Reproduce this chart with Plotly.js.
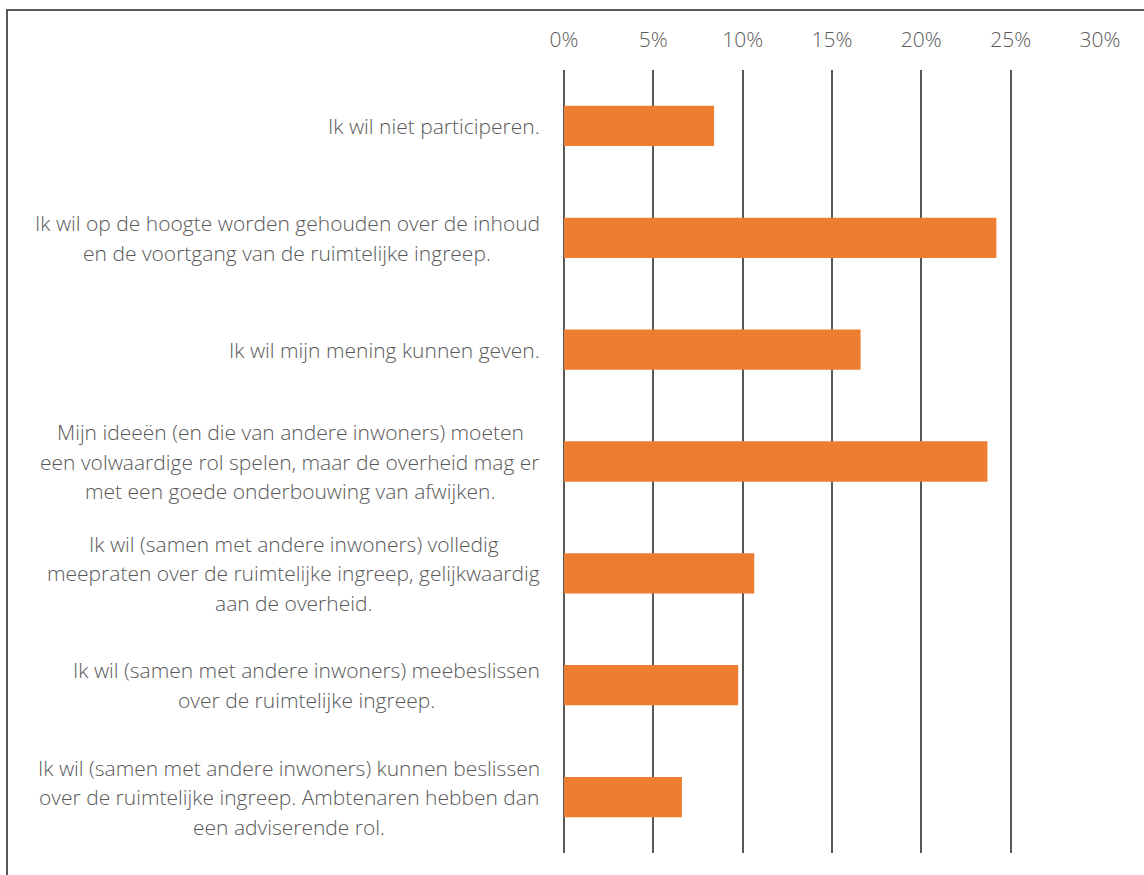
<!DOCTYPE html>
<html>
<head>
<meta charset="utf-8">
<script src="https://cdn.plot.ly/plotly-3.0.1.min.js"></script>
<style>
  html, body { margin: 0; padding: 0; background: #fff; overflow: hidden; }
  #chart { position: absolute; left: 0; top: 0; width: 1144px; height: 875px; }
  #frame { position: absolute; left: 6px; top: 9px; width: 1200px; height: 900px;
           border-left: 2px solid #595959; border-top: 2px solid #595959; pointer-events: none; }
</style>
</head>
<body>
<div id="chart"></div>
<div id="frame"></div>
<script>
const categories = [
  "Ik wil niet participeren.",
  "Ik wil op de hoogte worden gehouden over de inhoud<br>en de voortgang van de ruimtelijke ingreep.",
  "Ik wil mijn mening kunnen geven.",
  "Mijn ideeën (en die van andere inwoners) moeten<br>een volwaardige rol spelen, maar de overheid mag er<br>met een goede onderbouwing van afwijken.",
  "Ik wil (samen met andere inwoners) volledig<br>meepraten over de ruimtelijke ingreep, gelijkwaardig<br>aan de overheid.",
  "Ik wil (samen met andere inwoners) meebeslissen<br>over de ruimtelijke ingreep.",
  "Ik wil (samen met andere inwoners) kunnen beslissen<br>over de ruimtelijke ingreep. Ambtenaren hebben dan<br>een adviserende rol."
];
const values = [0.084, 0.242, 0.166, 0.237, 0.1065, 0.0975, 0.066];
const tickValues = [0, 0.05, 0.10, 0.15, 0.20, 0.25, 0.30];
const tickLabels = ["0%", "5%", "10%", "15%", "20%", "25%", "30%"];

const FONT = "'Open Sans', Lato, sans-serif";
const GREY = "#595959";
const LINE_H = 29.5;
const XSHIFT = -22;

const annotations = [];
categories.forEach((c, idx) => {
  const lines = c.split("<br>");
  const n = lines.length;
  lines.forEach((ln, i) => {
    annotations.push({
      xref: "paper", yref: "y",
      x: 0, y: idx,
      xshift: XSHIFT,
      yshift: ((n - 1) / 2 - i) * LINE_H,
      text: ln,
      showarrow: false,
      xanchor: "right",
      yanchor: "middle",
      font: { family: FONT, size: 21, color: GREY, weight: 300 },
      _block: idx
    });
  });
});

const trace = {
  type: "bar",
  orientation: "h",
  x: values,
  y: categories.map((c, i) => i),
  marker: { color: "#ED7D31" },
  width: 0.36,
  hoverinfo: "x"
};

const layout = {
  width: 1144, height: 875,
  margin: { l: 564, r: 44, t: 70, b: 22 },
  paper_bgcolor: "#fff", plot_bgcolor: "#fff",
  showlegend: false,
  font: { family: FONT, color: GREY },
  xaxis: {
    side: "top",
    range: [0, 0.30],
    tickvals: tickValues,
    ticktext: tickLabels,
    showgrid: true, gridcolor: GREY, gridwidth: 2,
    zeroline: true, zerolinecolor: GREY, zerolinewidth: 2,
    showline: false, ticks: "",
    ticklabelstandoff: 18,
    tickfont: { family: FONT, size: 21, color: GREY, weight: 300 },
    fixedrange: true
  },
  yaxis: {
    range: [6.5, -0.5],
    showticklabels: false, showgrid: false, zeroline: false, showline: false, ticks: "",
    fixedrange: true
  },
  annotations: annotations
};

Plotly.newPlot("chart", [trace], layout, { displayModeBar: false, staticPlot: true }).then(gd => {
  const anns = gd.querySelectorAll(".annotation");
  const widths = [];
  anns.forEach((a, k) => {
    const t = a.querySelector("text");
    widths[k] = t ? t.getBBox().width : 0;
  });
  const blockMax = {};
  annotations.forEach((a, k) => {
    blockMax[a._block] = Math.max(blockMax[a._block] || 0, widths[k]);
  });
  const upd = {};
  annotations.forEach((a, k) => {
    const extra = (blockMax[a._block] - widths[k]) / 2;
    upd["annotations[" + k + "].xshift"] = XSHIFT - extra;
  });
  Plotly.relayout(gd, upd);
});
</script>
</body>
</html>
